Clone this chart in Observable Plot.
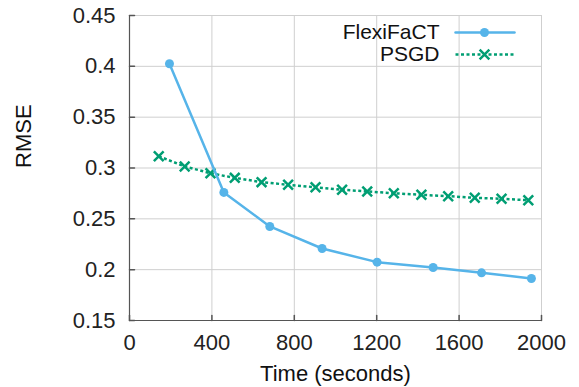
<!DOCTYPE html>
<html>
<head>
<meta charset="utf-8">
<script src="https://cdn.jsdelivr.net/npm/d3@7"></script>
<script src="https://cdn.jsdelivr.net/npm/@observablehq/plot@0.6"></script>
<style>
  html, body { margin: 0; padding: 0; background: #fff; }
  svg { font-family: "Liberation Sans", Arial, Helvetica, sans-serif; }
</style>
</head>
<body>
<div id="chart"></div>
<script>
const flexiTime = [194, 458, 681, 935, 1202, 1474, 1709, 1951];
const flexiRMSE = [0.4025, 0.276, 0.2425, 0.2208, 0.2074, 0.2021, 0.1969, 0.1913];
const psgdTime = [142, 268, 393, 511, 641, 770, 903, 1032, 1154, 1283, 1417, 1547, 1676, 1806, 1936];
const psgdRMSE = [0.3116, 0.3015, 0.2949, 0.2903, 0.2861, 0.2835, 0.2811, 0.2786, 0.2769, 0.2752, 0.2736, 0.2723, 0.2707, 0.2697, 0.2683];
const xTicks = [0, 400, 800, 1200, 1600, 2000];
const yTicks = [0.15, 0.2, 0.25, 0.3, 0.35, 0.4, 0.45];
const seriesNames = ["FlexiFaCT", "PSGD"];
const xLabel = "Time (seconds)";
const yLabel = "RMSE";

const blue = "#56B4E9";
const green = "#009E73";
const fs = 22;
const lfs = 21;

const flexi = flexiTime.map((t, i) => ({t, v: flexiRMSE[i]}));
const psgd = psgdTime.map((t, i) => ({t, v: psgdRMSE[i]}));

const lineShape = { draw(context, l) { context.moveTo(0, 0); context.lineTo(0, -l); } };
const yFmt = d => String(+d.toFixed(2));

const chart = Plot.plot({
  width: 579,
  height: 387,
  marginLeft: 129,
  marginRight: 38,
  marginTop: 15,
  marginBottom: 67,
  style: { fontSize: fs + "px", color: "#222", background: "#fff" },
  x: { domain: [0, 2000], ticks: xTicks, label: null, tickFormat: d => String(d) },
  y: { domain: [0.15, 0.45], ticks: yTicks, label: null, tickFormat: yFmt },
  marks: [
    Plot.gridX(xTicks, { stroke: "#cfcfcf", strokeOpacity: 1, strokeWidth: 1 }),
    Plot.gridY(yTicks, { stroke: "#cfcfcf", strokeOpacity: 1, strokeWidth: 1 }),
    Plot.frame({ stroke: "#cfcfcf", strokeWidth: 1 }),
    Plot.ruleX([0], { stroke: "#555", strokeWidth: 1.2 }),
    Plot.ruleY([0.15], { stroke: "#555", strokeWidth: 1.2 }),
    Plot.vector(xTicks, { x: d => d, frameAnchor: "bottom", length: 5, rotate: 0, anchor: "start", shape: lineShape, stroke: "#555" }),
    Plot.vector(yTicks, { y: d => d, frameAnchor: "left", length: 5, rotate: 90, anchor: "start", shape: lineShape, stroke: "#555" }),
    Plot.axisX({ ticks: xTicks, tickSize: 0, tickPadding: 14, fontSize: fs, fill: "#222", tickFormat: d => String(d) }),
    Plot.axisY({ ticks: yTicks, tickSize: 0, tickPadding: 14, fontSize: fs, fill: "#222", tickFormat: yFmt }),
    Plot.line(psgd, { x: "t", y: "v", stroke: green, strokeWidth: 2.5, strokeDasharray: "3,2.5", strokeLinecap: "butt" }),
    Plot.dot(psgd, { x: "t", y: "v", symbol: "times", r: 4.5, stroke: green, strokeWidth: 2.5 }),
    Plot.line(flexi, { x: "t", y: "v", stroke: blue, strokeWidth: 2.5 }),
    Plot.dot(flexi, { x: "t", y: "v", r: 4.5, fill: blue, stroke: "none" }),
    // legend
    Plot.text([seriesNames[0]], { text: d => d, frameAnchor: "top-right", dx: -102, dy: 17, textAnchor: "end", lineAnchor: "middle", fontSize: lfs, fill: "#111" }),
    Plot.text([seriesNames[1]], { text: d => d, frameAnchor: "top-right", dx: -102, dy: 39, textAnchor: "end", lineAnchor: "middle", fontSize: lfs, fill: "#111" }),
    Plot.vector([0], { frameAnchor: "top-right", dx: -86, dy: 17, length: 59, rotate: 90, anchor: "start", shape: lineShape, stroke: blue, strokeWidth: 2.5 }),
    Plot.dot([0], { frameAnchor: "top-right", dx: -57, dy: 17, r: 4.5, fill: blue, stroke: "none" }),
    Plot.vector([0], { frameAnchor: "top-right", dx: -86, dy: 39, length: 59, rotate: 90, anchor: "start", shape: lineShape, stroke: green, strokeWidth: 2.5, strokeDasharray: "3,2.5", strokeLinecap: "butt" }),
    Plot.dot([0], { frameAnchor: "top-right", dx: -57, dy: 39, symbol: "times", r: 4.5, stroke: green, strokeWidth: 2.5 }),
    // axis titles
    Plot.text([xLabel], { text: d => d, frameAnchor: "bottom", dy: 53, lineAnchor: "middle", fontSize: fs, fill: "#111" }),
    Plot.text([yLabel], { text: d => d, frameAnchor: "left", dx: -106, rotate: -90, lineAnchor: "middle", fontSize: fs, fill: "#111" })
  ]
});
document.getElementById("chart").appendChild(chart);
</script>
</body>
</html>
